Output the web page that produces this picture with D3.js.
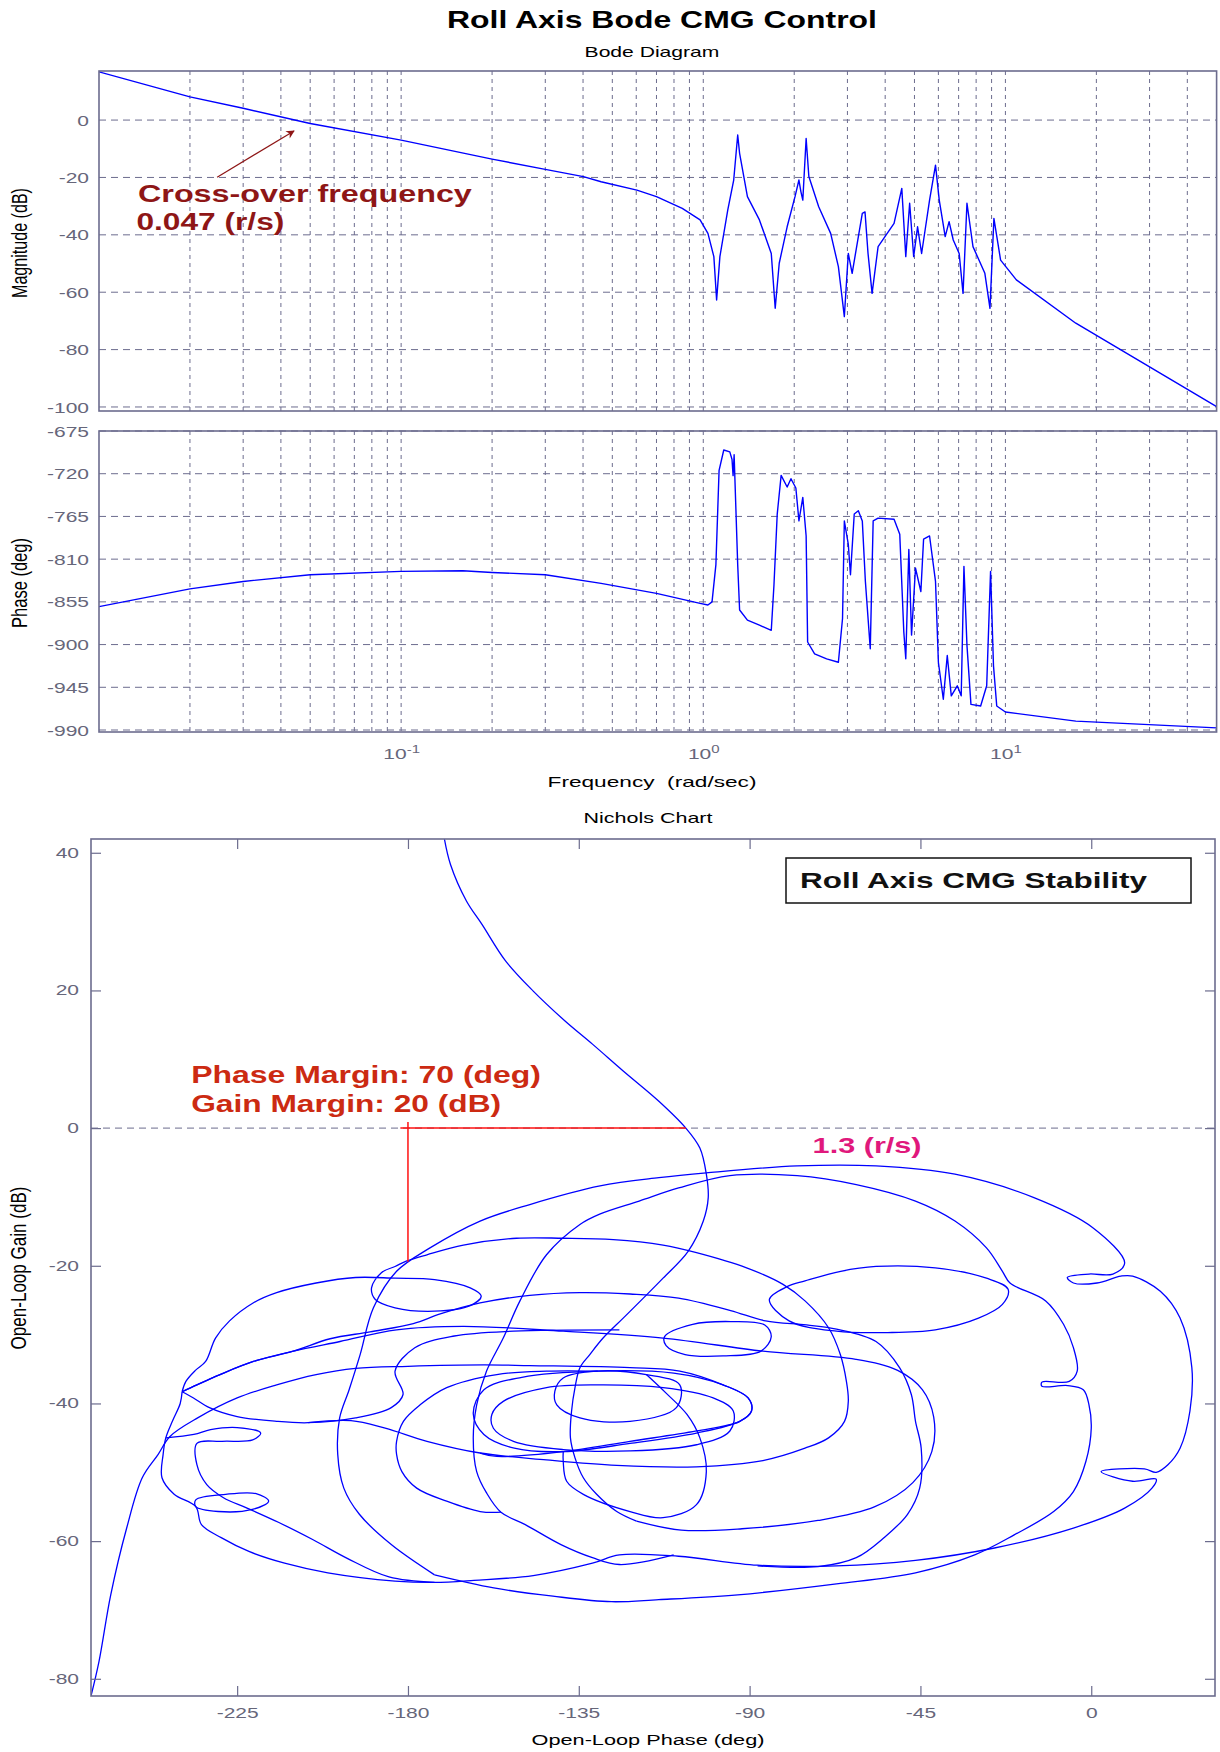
<!DOCTYPE html>
<html>
<head>
<meta charset="utf-8">
<script src="https://cdn.jsdelivr.net/npm/d3@7"></script>
<style>
  body { margin: 0; background: #fff; }
  svg { display: block; font-family: "Liberation Sans", Arial, sans-serif; }
</style>
</head>
<body>
<svg id="chart" width="1220" height="1752"></svg>
<script>
"use strict";

// ---- Bode data ----
const magFreq = [0.01, 0.02, 0.03, 0.05, 0.1, 0.2, 0.3, 0.401, 0.459, 0.603, 0.70, 0.852, 0.976,
  1.036, 1.084, 1.107, 1.135, 1.205, 1.261, 1.300, 1.319, 1.40, 1.534, 1.679, 1.73, 1.784,
  1.895, 2.012, 2.073, 2.105, 2.135, 2.190, 2.236, 2.41, 2.64, 2.80, 2.93, 3.02, 3.11, 3.36,
  3.43, 3.51, 3.62, 3.79, 4.28, 4.54, 4.68, 4.82, 4.97, 5.12, 5.28, 5.61, 5.87, 6.04, 6.32,
  6.51, 6.72, 7.03, 7.24, 7.46, 7.81, 8.55, 8.89, 9.16, 9.64, 10.87, 17.1, 50];
const magDb = [16.8, 8.1, 4.1, -1.2, -7, -13.6, -17.2, -19.7, -21.5, -24.4, -26.7, -30.8, -34.8,
  -39.5, -47.6, -62.7, -47.6, -31.4, -20.9, -5.2, -11.6, -26.7, -34.8, -46.5, -65.6, -49.9,
  -37.2, -26.7, -20.9, -25, -27.9, -6.4, -19.7, -30.2, -39.5, -51.1, -68.5, -46.5, -53.4, -32.5,
  -32, -46.5, -60.4, -44.1, -36, -23.8, -47.6, -29, -47.6, -37.2, -46.5, -27.9, -15.7, -27.9, -40.6,
  -35.4, -41.8, -46.5, -60.4, -29, -44.1, -53.4, -65.6, -34.3, -48.8, -55.7, -70.8, -99.9];

const phaseFreq = [0.01, 0.02, 0.03, 0.05, 0.1, 0.16, 0.2, 0.3, 0.459, 0.70, 0.976, 1.036, 1.069,
  1.101, 1.128, 1.169, 1.224, 1.245, 1.255, 1.265, 1.300, 1.319, 1.40, 1.534, 1.679, 1.714, 1.757,
  1.810, 1.895, 1.951, 2.025, 2.073, 2.135, 2.190, 2.215, 2.336, 2.560, 2.80, 2.89, 2.93, 3.02,
  3.07, 3.16, 3.26, 3.36, 3.44, 3.57, 3.65, 3.79, 4.28, 4.47, 4.61, 4.68, 4.79, 4.89, 5.04, 5.25,
  5.36, 5.61, 5.87, 6.0, 6.23, 6.42, 6.62, 6.93, 7.14, 7.29, 7.46, 7.69, 8.28, 8.67, 8.93, 9.13,
  9.36, 10.0, 17.1, 50];
const phaseDeg = [-860, -841.3, -833.5, -826.4, -822.9, -822.2, -824, -826.4, -835.5, -846, -856.6,
  -858.3, -855, -815.8, -716.5, -695, -697, -705, -722, -700, -815.8, -863.6, -874.3, -879.6, -885,
  -837, -762.5, -721.8, -734, -725.3, -735, -769.7, -744.9, -785.6, -897.3, -909.8, -915, -918.6,
  -872.5, -769.7, -794.5, -826.4, -762.5, -759, -769.7, -833.5, -904.4, -769.7, -766.8, -768,
  -783.8, -886.7, -915, -799.8, -890, -819.4, -844.1, -789, -785.6, -833.5, -918.6, -957.6, -911.5,
  -954, -943.4, -954, -817.6, -900.8, -963, -964.7, -943.4, -822.9, -922.1, -964.7, -971, -980.6, -987.8];

const magTicks = [0, -20, -40, -60, -80, -100];
const phaseTicks = [-675, -720, -765, -810, -855, -900, -945, -990];
const decadeTicks = [0.1, 1, 10];
const decadeExponents = ["-1", "0", "1"];

// ---- Nichols data: [open-loop phase (deg), open-loop gain (dB)] ----
const nicholsLowFreq = [[-170.4, 42], [-168.8, 38.3], [-164.6, 33], [-160.5, 29.6], [-154.3, 24.3],
  [-147, 19.9], [-138.7, 15.6], [-131.4, 12.2], [-123.3, 8.3], [-113.9, 3.9], [-106.8, 0],
  [-103.1, -2.9], [-101.4, -6.7], [-100.9, -10.1], [-102.2, -13.5], [-106.2, -17.9], [-112.8, -21.8],
  [-118, -24.7], [-123.3, -27.6], [-128.6, -30.5], [-132.1, -32.9], [-134.7, -34.8], [-136, -37.7],
  [-136.9, -41.1], [-137.2, -45], [-136, -47.9], [-133.8, -50.8], [-130.3, -53.2], [-125, -55.7],
  [-119.8, -57.1]];
const nicholsMidLoop = [[-119.8, -57.1], [-108, -58.4], [-92, -58.2], [-72, -57], [-57, -55],
  [-47, -51.5], [-42, -47], [-41.5, -42], [-44.5, -38], [-51, -35.2], [-62, -33.6], [-86.5, -32.4],
  [-112.8, -30.5], [-139.1, -29.5], [-165.4, -28.8], [-183, -29.3], [-197.9, -31], [-210.2, -32.4],
  [-220.7, -33.9], [-229.5, -35.8], [-235.6, -37.3], [-239.5, -38.3]];
const nicholsLeftArch = [[-239.5, -38.3], [-238.5, -36.8], [-236, -35.2], [-233.3, -33.9],
  [-230.7, -30.5], [-227, -28], [-220.8, -25.4], [-214.6, -23.9], [-204.2, -22.5], [-193.8, -21.7],
  [-183.4, -21.8], [-173, -22], [-163.6, -23.2], [-160.7, -24.4], [-163.6, -25.8], [-173, -26.6],
  [-183.4, -26.1], [-188.6, -24.9], [-189.6, -23.2], [-187, -21], [-183.4, -20.1], [-180.3, -19.3],
  [-175, -18.4], [-165.4, -17], [-151.4, -16], [-139.1, -16], [-125.9, -16.2], [-112.8, -17],
  [-104, -18.1], [-90.8, -20.3], [-81.2, -22.7], [-75.4, -25.1], [-69.2, -29], [-66.1, -32.9],
  [-64.5, -36.8], [-64, -39.7], [-65, -42.6], [-69.2, -45], [-75.4, -46.5], [-86.5, -48.3],
  [-104, -49.2], [-125, -49], [-143.5, -48.2], [-161, -47.2], [-175, -45.5], [-186, -43.6],
  [-195, -42.5], [-206.3, -42.8]];
const nicholsLoopWest = [[-124.3, -29.3], [-152.2, -29.5], [-167.8, -30.2], [-178.2, -31.9],
  [-183.4, -35.3], [-181.3, -38.7], [-184.4, -40.6], [-193.8, -42.1], [-206.3, -42.8], [-214.6, -42.6],
  [-225, -41.9], [-232.3, -40.6], [-236.5, -39.2], [-239.5, -38.3]];
const nicholsOuterArch = [[-173, -64.9], [-184.4, -60.5], [-192.8, -56.1], [-196.9, -52.3],
  [-198.5, -47.4], [-198, -42.1], [-195.5, -38], [-192.6, -32.9], [-189.1, -26.1], [-183, -20.8],
  [-174.2, -17.4], [-161, -13.5], [-147.9, -11.1], [-129.4, -8.4], [-113.9, -7.2], [-101.4, -6.5],
  [-77.5, -5.5], [-56.7, -5.5], [-35.9, -6.7], [-15.1, -10.1], [0.5, -14.5], [8.8, -19.6],
  [5.7, -21.2], [-0.6, -21.2], [-6.3, -21.7], [-4.7, -22.5], [1.5, -22.5], [7.8, -21.5],
  [10.9, -21.5], [18.2, -23.7], [23.4, -27.6], [26.5, -34.8], [26, -41.1], [23.4, -46.5],
  [20.2, -48.9], [17.1, -50], [14, -49.5], [2.6, -49.9], [10.9, -51.3], [17.1, -51], [16, -52.3],
  [8.8, -55.2], [-4.7, -58.1], [-25.5, -61], [-46.3, -62.8], [-67.1, -63.6], [-87.9, -63.5],
  [-108.7, -62.2], [-124.3, -62], [-131.4, -63.2], [-147, -65], [-162.6, -65.7], [-173, -66],
  [-183.4, -65.8], [-201.1, -64.6], [-212.5, -63.2], [-221.9, -61.5], [-229.2, -59.5],
  [-234.4, -57.6], [-235.9, -55], [-241.6, -53.2], [-244.8, -50.8], [-244.5, -47.4], [-243.8, -45],
  [-242, -42.5], [-240, -40], [-239.5, -38.3]];
const nicholsInnerArch = [[-110, -62], [-124.3, -63.4], [-131.4, -62.4], [-139.7, -60.5],
  [-149.1, -57.6], [-155.5, -55.8], [-159.3, -53], [-161.9, -49.9], [-162.8, -45], [-161.9, -40.2],
  [-159.3, -35.3], [-154.9, -30.5], [-150.5, -25.1], [-143.5, -18.4], [-134.7, -14], [-129.5, -12.5],
  [-119.1, -10.6], [-108.7, -8.7], [-95.2, -6.9], [-77.5, -6.9], [-61.9, -8.2], [-46.3, -10.6],
  [-35.9, -13.5], [-27.6, -17.4], [-23.4, -20.8], [-21.4, -22.5], [-12, -25.1], [-7.3, -28.5],
  [-4.7, -31.9], [-3.7, -35.3], [-5.8, -36.8], [-13, -36.9], [-13, -37.5], [-6.2, -37.4],
  [-2.1, -38], [-0.6, -40.2], [0, -43.6], [-1.4, -48.4], [-4.7, -52.8], [-9.9, -55.7],
  [-20.3, -59.1], [-30.7, -62], [-46.3, -64.6], [-67.1, -66.2], [-93.1, -67.8], [-113.9, -68.5],
  [-126.4, -68.8], [-141.8, -68], [-157.4, -66.8], [-173, -64.9]];
const nicholsLoopTop24 = [[-239.5, -38.3], [-235.6, -37.3], [-229.5, -35.8], [-220.7, -33.9],
  [-210.2, -32.4], [-200.5, -30.6], [-190, -29.6],
  [-178.6, -28.4], [-171.5, -27], [-161, -25.4], [-147.9, -24.3], [-134.7, -23.9], [-121.5, -24.1],
  [-108.7, -24.7], [-95, -26.5], [-85.8, -28], [-75, -28.6], [-67.1, -29.2], [-56.7, -31],
  [-50.5, -34.8], [-47.4, -38.7], [-46.3, -42.6], [-44.8, -46.5], [-45.2, -52.3], [-48.4, -56.1],
  [-54.6, -59.5], [-61.9, -62.4], [-72, -63.7], [-87.9, -63.6]];
const nicholsHighFreq = [[-161, -47.2], [-156.6, -47.7], [-139.1, -47], [-121.5, -45.5], [-104, -44],
  [-92.6, -42.6], [-89.5, -41.1], [-90.4, -39.2], [-97, -37.3], [-108.4, -35.3], [-121.5, -34.8],
  [-147.9, -34.5], [-160, -34.4], [-180, -34.6], [-193.8, -34.9], [-204.2, -35.8], [-214.6, -37.3],
  [-225, -39.2], [-235.4, -42.1], [-242.7, -44.8], [-245.8, -47.4], [-250, -50.8], [-254.1, -58.1],
  [-258.3, -67.8], [-261.4, -77.5], [-263.5, -82.5]];
const nicholsLeftOval = [[-130, -35.3], [-143.5, -35.3], [-156.6, -35.8], [-169.8, -37.7],
  [-176.8, -40.2], [-181.2, -42.6], [-183, -45.5], [-183, -47.4], [-181.6, -49.9], [-177.7, -52.3],
  [-169.8, -54.2], [-161, -55.7], [-155.5, -55.8]];
const nicholsLowerCircle = [[-117.2, -35.8], [-112, -38.5], [-106.5, -41.6], [-103.1, -45],
  [-101.4, -49.9], [-104, -54.7], [-112.8, -56.6], [-121.5, -55.7], [-133.8, -53.2], [-138.2, -51.3],
  [-139.1, -48.4], [-139.1, -47]];
const nicholsEarWest = [[-243.8, -45], [-236.4, -44.5], [-232, -43.8], [-225, -43.5], [-218.8, -44.3],
  [-220.9, -45.3], [-229, -45.5], [-235.6, -45.8], [-235.6, -48.9], [-233, -51.8], [-228.6, -53.7],
  [-222.4, -55.2], [-214, -57.3], [-205, -59.8], [-196, -62.5], [-185, -65.2], [-173, -66]];
// closed loops
const nicholsRingEast = [[-84.8, -24.9], [-80, -23], [-75.4, -22.2], [-66, -20.8], [-56.7, -20.1],
  [-41.1, -20.3], [-27.6, -21.8], [-21.9, -23.4], [-23.4, -25.6], [-29.7, -27.6], [-41.1, -29.3],
  [-53.6, -29.7], [-67.1, -29.5], [-79.6, -28]];
const nicholsRingSmall = [[-112.4, -30.3], [-105, -28.5], [-95, -28.1], [-86, -28.6], [-84.3, -30.3],
  [-87, -32.4], [-97, -33.1], [-107, -32.9], [-112, -31.6]];
const nicholsRingCoreA = [[-162.8, -41.5], [-160, -38], [-150, -36.2], [-130, -35.3], [-110, -35.6],
  [-97, -37.3], [-90.4, -39.2], [-89.5, -41.1], [-92.6, -42.6], [-104, -44.3], [-121.5, -45.8],
  [-139.1, -47], [-152, -46.5], [-160, -44.5]];
const nicholsRingCoreB = [[-157.9, -41.6], [-154.9, -39.7], [-143.5, -37.7], [-130.3, -37.3],
  [-112.8, -37.7], [-99.6, -39.2], [-94.3, -41.1], [-95.2, -44], [-104, -46], [-121.5, -46.9],
  [-139.1, -46.7], [-152.2, -45.5], [-157.5, -43.6]];
const nicholsRingCoreC = [[-141.3, -38.2], [-139.1, -36.3], [-130.3, -35.3], [-117.2, -35.8],
  [-108.4, -37.3], [-109.3, -40.6], [-121.5, -42.6], [-134.7, -42.1], [-140.8, -40.2]];
const nicholsRingEar = [[-235.9, -54], [-228, -53.2], [-220, -53.1], [-216.7, -54.2], [-221, -55.4],
  [-230, -55.7], [-235.9, -55]];

const nicholsGainTicks = [40, 20, 0, -20, -40, -60, -80];
const nicholsPhaseTicks = [-225, -180, -135, -90, -45, 0];

// ---- styling ----
const axisColor = "#6c6c8e";
const tickColor = "#66667a";
const curveColor = "#0000ff";
const TICK_K = 1.5;          // the picture is stretched sideways, so is its text
const plain = d => String(d); // hyphen minus, like the original

const svg = d3.select("#chart");

const bodeX = d3.scaleLog().domain([0.01, 50]).range([99, 1216.6]);
const magY = d3.scaleLinear().domain([-101.4, 17.1]).range([411, 71]);
const phaseY = d3.scaleLinear().domain([-992.1, -675]).range([732, 431]);
const nichX = d3.scaleLinear().domain([-263.5, 32.6]).range([91, 1215]);
const nichY = d3.scaleLinear().domain([-82.5, 42]).range([1696, 839]);

// text at (x, y) squeezed or stretched to the width it has in the picture
function label(parent, str, x, y, o) {
  const t = parent.append("text")
      .attr("font-size", o.size)
      .attr("font-weight", o.weight || "normal")
      .attr("fill", o.fill || "#000")
      .attr("text-anchor", o.anchor || "start")
      .style("white-space", "pre")
      .text(str);
  const k = o.width / t.node().getComputedTextLength();
  if (o.rotate) {
    t.attr("transform", `translate(${x},${y}) rotate(-90) scale(${k},${o.thick || 1})`);
  } else {
    t.attr("transform", `translate(${x},${y}) scale(${k},1)`);
  }
  return t;
}

function styleAxis(g) {
  g.attr("font-size", 14).attr("font-family", null);
  g.select(".domain").remove();
  g.selectAll("line").attr("stroke", axisColor).attr("stroke-width", 1.2);
  g.selectAll("text")
      .attr("fill", tickColor)
      .each(function () {
        const t = d3.select(this);
        t.attr("x", (+t.attr("x") || 0) / TICK_K).attr("transform", `scale(${TICK_K},1)`);
      });
}

let clipId = 0;
function clipTo(x0, y0, x1, y1) {
  const id = "clip" + (clipId++);
  svg.append("clipPath").attr("id", id)
     .append("rect").attr("x", x0).attr("y", y0).attr("width", x1 - x0).attr("height", y1 - y0);
  return `url(#${id})`;
}

// ---- titles ----
label(svg, "Roll Axis Bode CMG Control", 662, 28, {size: 23, weight: "bold", anchor: "middle", width: 430});
label(svg, "Bode Diagram", 652, 57, {size: 15, anchor: "middle", width: 135});

// ---- Bode panels ----
function bodePanel(y, ticks, freqs, values) {
  const [yb, yt] = y.range();
  const [xl, xr] = bodeX.range();
  const g = svg.append("g");

  g.append("g").selectAll("line")
   .data(bodeX.ticks().filter(f => f > 0.0101 && f < 49.9))
   .join("line")
   .attr("x1", f => bodeX(f)).attr("x2", f => bodeX(f))
   .attr("y1", yt).attr("y2", yb)
   .attr("stroke", axisColor).attr("stroke-dasharray", "4,4");

  g.append("g").selectAll("line")
   .data(ticks)
   .join("line")
   .attr("x1", xl).attr("x2", xr)
   .attr("y1", v => y(v)).attr("y2", v => y(v))
   .attr("stroke", axisColor).attr("stroke-dasharray", "7,5");

  const ax = g.append("g").attr("transform", `translate(${xl},0)`)
      .call(d3.axisLeft(y).tickValues(ticks).tickSize(0).tickPadding(10).tickFormat(plain));
  styleAxis(ax);
  ax.selectAll("text").attr("dy", "0.36em");

  const pts = freqs.map((f, i) => [f, values[i]]);
  g.append("path")
   .datum(pts)
   .attr("clip-path", clipTo(xl, yt, xr, yb))
   .attr("fill", "none")
   .attr("stroke", curveColor)
   .attr("stroke-width", 1.4)
   .attr("stroke-linejoin", "round")
   .attr("d", d3.line().x(d => bodeX(d[0])).y(d => y(d[1])));

  g.append("rect").attr("x", xl).attr("y", yt).attr("width", xr - xl).attr("height", yb - yt)
   .attr("fill", "none").attr("stroke", axisColor).attr("stroke-width", 1.6);
  return g;
}

bodePanel(magY, magTicks, magFreq, magDb);
bodePanel(phaseY, phaseTicks, phaseFreq, phaseDeg);

// decade labels 10^n
const xAx = svg.append("g").attr("transform", `translate(0,${phaseY.range()[0]})`)
    .call(d3.axisBottom(bodeX).tickValues(decadeTicks).tickSize(0).tickPadding(17).tickFormat(() => ""));
styleAxis(xAx);
xAx.selectAll("text").each(function (d, i) {
  const t = d3.select(this);
  t.append("tspan").text("10");
  t.append("tspan").attr("dy", "-0.6em").attr("font-size", 10).text(decadeExponents[i]);
});

label(svg, "Magnitude (dB)", 27, 243, {size: 16, anchor: "middle", width: 110, rotate: true, thick: 1.35});
label(svg, "Phase (deg)", 27, 583, {size: 16, anchor: "middle", width: 90, rotate: true, thick: 1.35});
label(svg, "Frequency  (rad/sec)", 652, 787, {size: 15, anchor: "middle", width: 209});

// cross-over annotation
const annRed = "#8e1616";
svg.append("defs").append("marker")
   .attr("id", "arrowHead").attr("viewBox", "0 0 10 10").attr("refX", 9).attr("refY", 5)
   .attr("markerWidth", 9).attr("markerHeight", 7).attr("orient", "auto")
   .append("path").attr("d", "M0,0 L10,5 L0,10 L3,5 Z").attr("fill", annRed);
svg.append("line")
   .attr("x1", bodeX(0.0246)).attr("y1", magY(-19.9))
   .attr("x2", bodeX(0.0442)).attr("y2", magY(-3.8))
   .attr("stroke", annRed).attr("stroke-width", 1.2)
   .attr("marker-end", "url(#arrowHead)");
label(svg, "Cross-over frequency", bodeX(0.01346), magY(-28.6), {size: 23, weight: "bold", fill: annRed, width: 334});
label(svg, "0.047 (r/s)", bodeX(0.0133), magY(-38.3), {size: 23, weight: "bold", fill: annRed, width: 148});

// ---- Nichols chart ----
label(svg, "Nichols Chart", 648, 823, {size: 15, anchor: "middle", width: 129});

const [nxl, nxr] = nichX.range();
const [nyb, nyt] = nichY.range();
const nich = svg.append("g");

nich.append("line")
    .attr("x1", nxl).attr("x2", nxr).attr("y1", nichY(0)).attr("y2", nichY(0))
    .attr("stroke", axisColor).attr("stroke-dasharray", "7,5");

const nClip = clipTo(nxl, nyt, nxr, nyb);
const openLine = d3.line().x(d => nichX(d[0])).y(d => nichY(d[1])).curve(d3.curveCatmullRom.alpha(0.5));
const closedLine = d3.line().x(d => nichX(d[0])).y(d => nichY(d[1])).curve(d3.curveCatmullRomClosed.alpha(0.5));

const openSegments = [nicholsLowFreq, nicholsMidLoop, nicholsLeftArch, nicholsLoopWest,
  nicholsOuterArch, nicholsInnerArch, nicholsLoopTop24, nicholsHighFreq, nicholsLeftOval,
  nicholsLowerCircle, nicholsEarWest];
const closedSegments = [nicholsRingEast, nicholsRingSmall, nicholsRingCoreA, nicholsRingCoreB,
  nicholsRingCoreC, nicholsRingEar];

const curves = nich.append("g").attr("clip-path", nClip)
    .attr("fill", "none").attr("stroke", curveColor).attr("stroke-width", 1.3);
curves.selectAll("path.open").data(openSegments).join("path").attr("class", "open").attr("d", openLine);
curves.selectAll("path.closed").data(closedSegments).join("path").attr("class", "closed").attr("d", closedLine);

// margins
const marginRed = "#ff1010";
nich.append("line")
    .attr("x1", nichX(-182)).attr("x2", nichX(-106.8)).attr("y1", nichY(0)).attr("y2", nichY(0))
    .attr("stroke", marginRed).attr("stroke-width", 1.5);
nich.append("line")
    .attr("x1", nichX(-180)).attr("x2", nichX(-180)).attr("y1", nichY(0.9)).attr("y2", nichY(-19.4))
    .attr("stroke", marginRed).attr("stroke-width", 1.5);

// axes with inward ticks on all four sides
const nl = nich.append("g").attr("transform", `translate(${nxl},0)`)
    .call(d3.axisLeft(nichY).tickValues(nicholsGainTicks).tickSizeInner(-10).tickSizeOuter(0)
            .tickPadding(12).tickFormat(plain));
styleAxis(nl);
const nr = nich.append("g").attr("transform", `translate(${nxr},0)`)
    .call(d3.axisRight(nichY).tickValues(nicholsGainTicks).tickSizeInner(-10).tickSizeOuter(0).tickFormat(""));
styleAxis(nr);
const nb = nich.append("g").attr("transform", `translate(0,${nyb})`)
    .call(d3.axisBottom(nichX).tickValues(nicholsPhaseTicks).tickSizeInner(-10).tickSizeOuter(0)
            .tickPadding(12).tickFormat(plain));
styleAxis(nb);
const nt = nich.append("g").attr("transform", `translate(0,${nyt})`)
    .call(d3.axisTop(nichX).tickValues(nicholsPhaseTicks).tickSizeInner(-10).tickSizeOuter(0).tickFormat(""));
styleAxis(nt);

nich.append("rect").attr("x", nxl).attr("y", nyt).attr("width", nxr - nxl).attr("height", nyb - nyt)
    .attr("fill", "none").attr("stroke", axisColor).attr("stroke-width", 1.6);

label(svg, "Open-Loop Gain (dB)", 26, 1268, {size: 17, anchor: "middle", width: 163, rotate: true, thick: 1.3});
label(svg, "Open-Loop Phase (deg)", 648, 1745, {size: 15, anchor: "middle", width: 233});

// annotations
const pmRed = "#cc2a12";
label(svg, "Phase Margin: 70 (deg)", nichX(-237.1), nichY(6.5), {size: 24, weight: "bold", fill: pmRed, width: 350});
label(svg, "Gain Margin: 20 (dB)", nichX(-237.1), nichY(2.3), {size: 24, weight: "bold", fill: pmRed, width: 310});
label(svg, "1.3 (r/s)", nichX(-73.4), nichY(-3.6), {size: 23, weight: "bold", fill: "#e0187c", width: 109});

// legend box
svg.append("rect").attr("x", 786).attr("y", 858).attr("width", 405).attr("height", 45)
   .attr("fill", "#fff").attr("stroke", "#111").attr("stroke-width", 1.5);
label(svg, "Roll Axis CMG Stability", 800, 888, {size: 22, weight: "bold", fill: "#111", width: 347});
</script>
</body>
</html>
